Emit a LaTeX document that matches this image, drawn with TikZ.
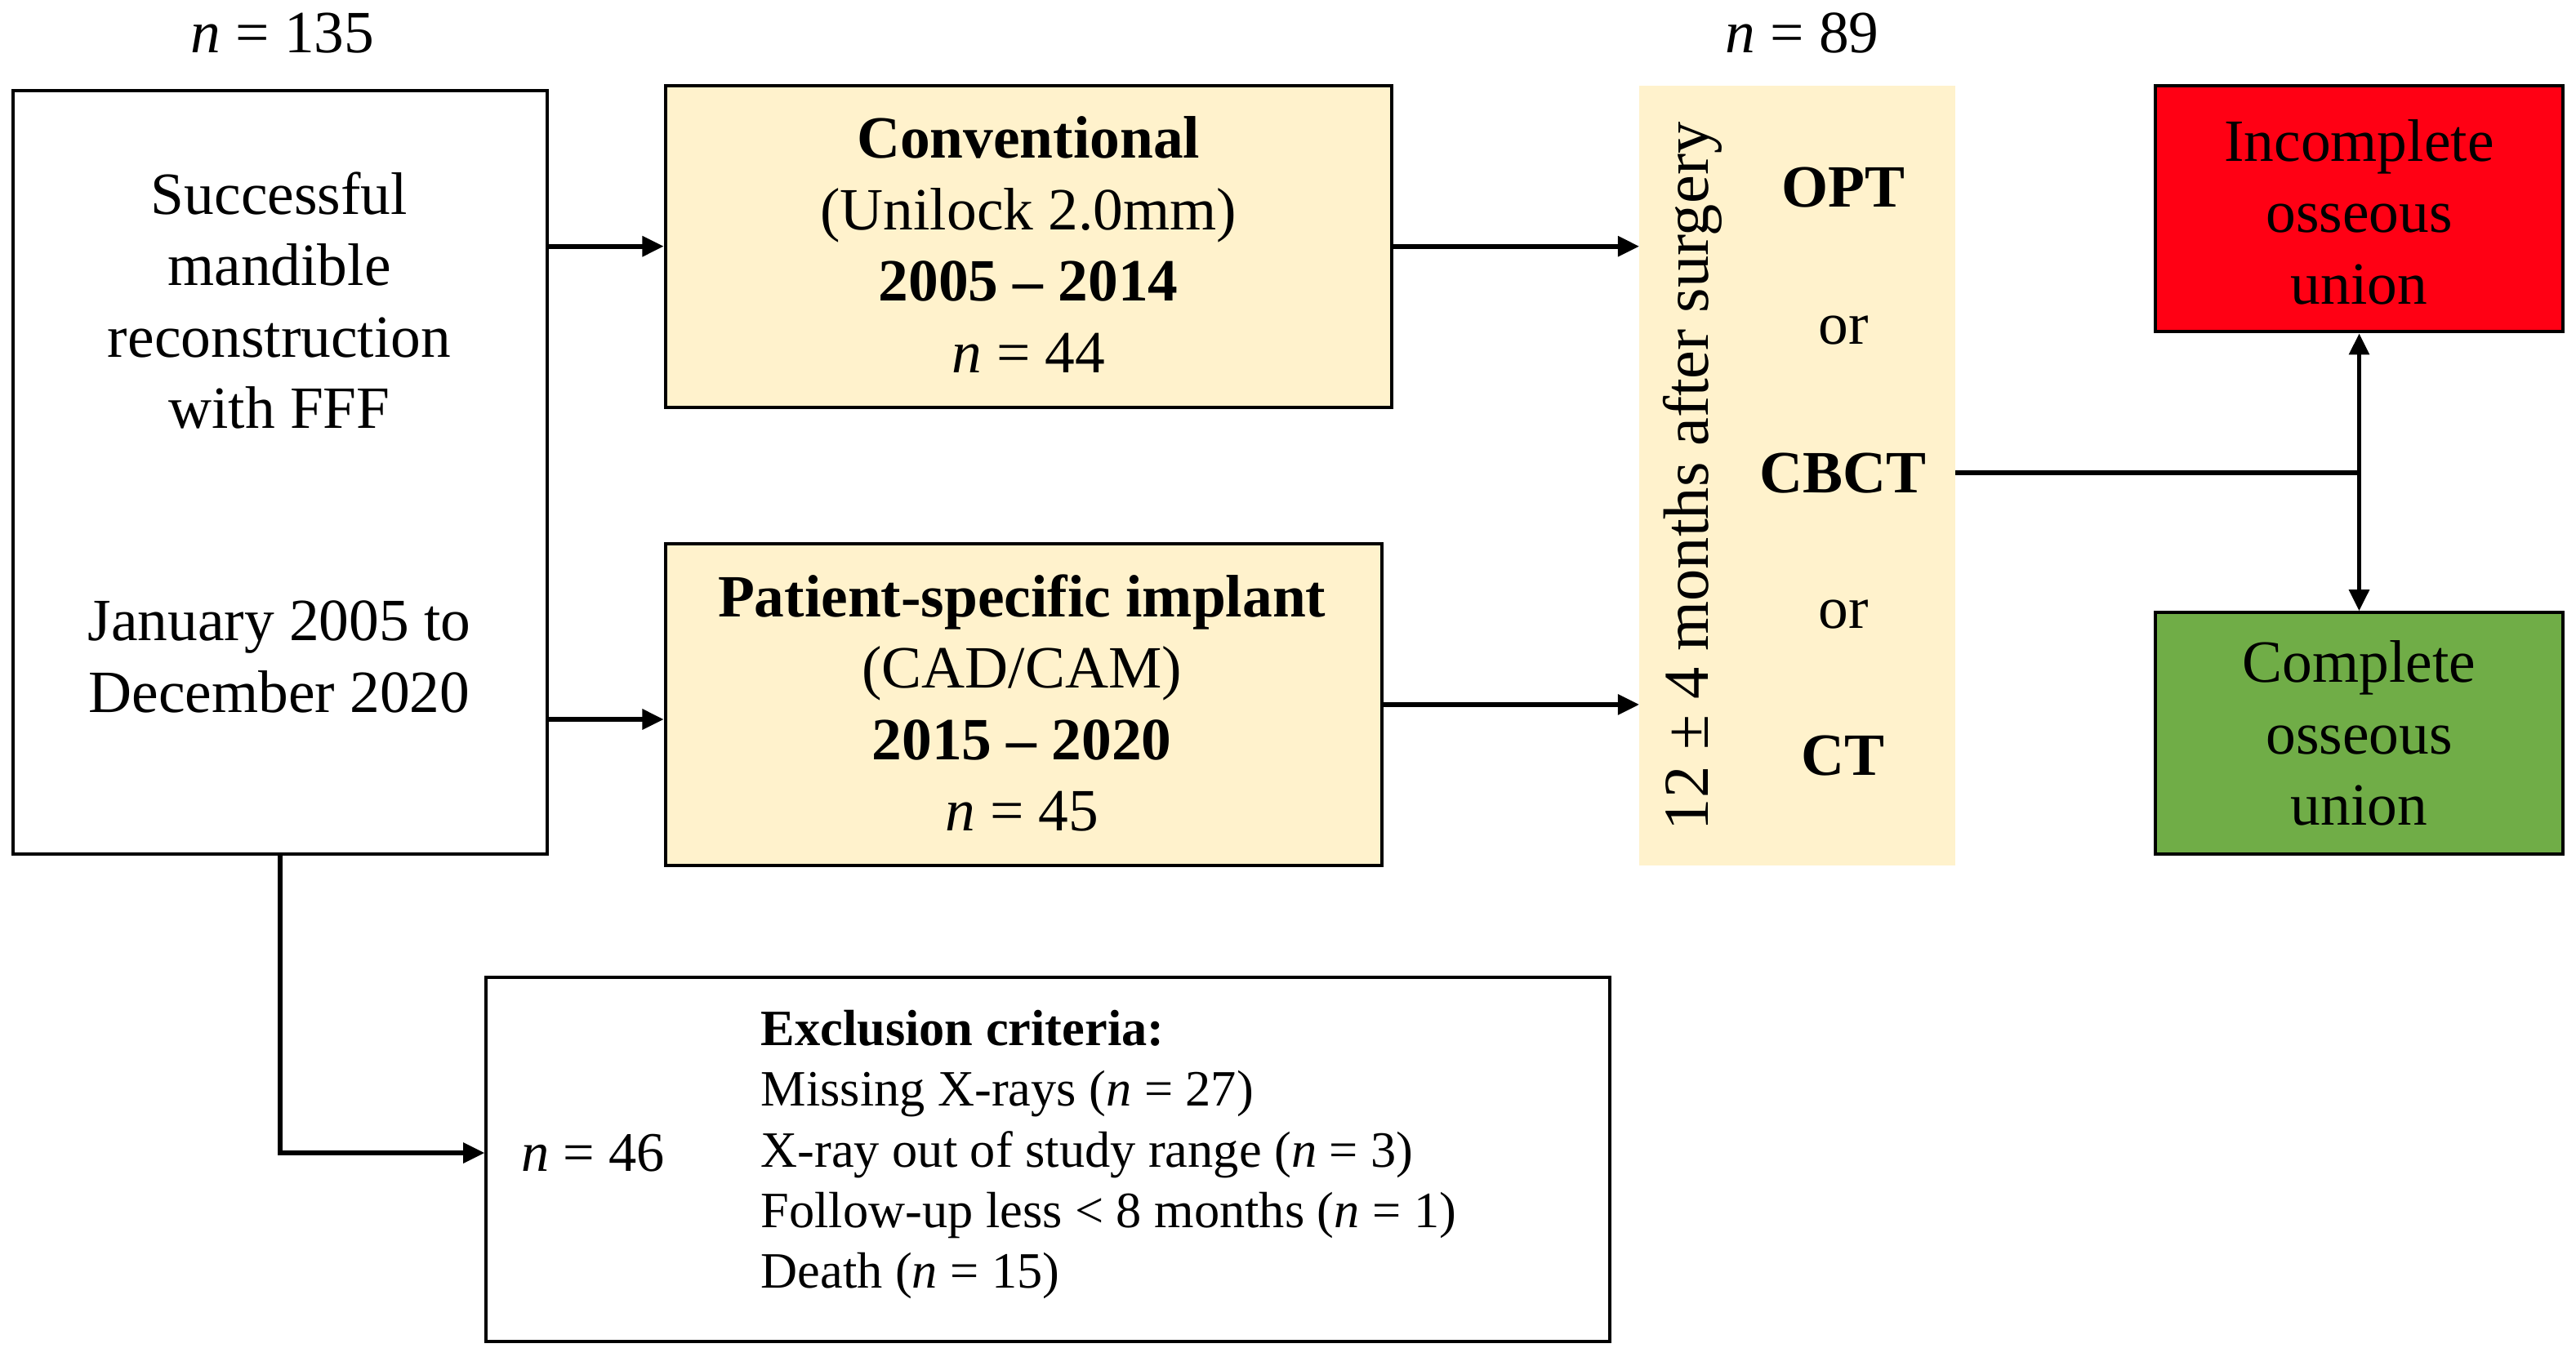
\documentclass[tikz,border=0pt]{standalone}
\usepackage{fontspec}
\setmainfont{Liberation Serif}
\usetikzlibrary{arrows.meta}
\definecolor{ylw}{RGB}{255,242,204}
\definecolor{redbox}{RGB}{255,0,20}
\definecolor{greenbox}{RGB}{112,173,71}
\tikzset{
  box/.style={draw=black, line width=2pt, inner sep=0pt},
  txt/.style={font=\fontsize{36.5}{43.5}\selectfont, align=center, inner sep=0pt},
  small/.style={font=\fontsize{31}{37}\selectfont, align=left, inner sep=0pt},
  arr/.style={line width=2.8pt, -{Triangle[length=13pt,width=12pt]}},
  ln/.style={line width=2.8pt},
}
\begin{document}
\begin{tikzpicture}[x=1pt,y=-1pt]
\useasboundingbox (0,0) rectangle (1568,826);
% boxes
\node[box, fill=white, minimum width=325pt, minimum height=465pt] (L) at (170.5,287.5) {};
\node[box, fill=ylw, minimum width=442pt, minimum height=196pt] (conv) at (626,150) {};
\node[box, fill=ylw, minimum width=436pt, minimum height=196pt] (psi) at (623,429) {};
\node[fill=ylw, inner sep=0pt, minimum width=192pt, minimum height=475pt] (col) at (1094,289.5) {};
\node[box, fill=redbox, minimum width=248pt, minimum height=150pt] (inc) at (1436,127) {};
\node[box, fill=greenbox, minimum width=248pt, minimum height=147pt] (comp) at (1436,446.5) {};
\node[box, fill=white, minimum width=684pt, minimum height=222pt] (excl) at (638,706) {};
% texts
\node[txt] (n135) at (172,20) {\textit{n} = 135};
\node[txt] (n89) at (1097,20) {\textit{n} = 89};
\node[txt] (Lt1) at (170,183) {Successful\\mandible\\reconstruction\\with FFF};
\node[txt] (Lt2) at (170,400) {January 2005 to\\December 2020};
\node[txt] (convt) at (626,149) {\textbf{Conventional}\\(Unilock 2.0mm)\\\textbf{2005 – 2014}\\\textit{n} = 44};
\node[txt] (psit) at (622,428) {\textbf{Patient-specific implant}\\(CAD/CAM)\\\textbf{2015 – 2020}\\\textit{n} = 45};
\node[txt, font=\fontsize{39}{43}\selectfont, rotate=90] (months) at (1030,290) {12 ± 4 months after surgery};
\node[txt] (opt) at (1122,114) {\textbf{OPT}};
\node[txt] (or1) at (1122,201) {or};
\node[txt] (cbct) at (1122,288) {\textbf{CBCT}};
\node[txt] (or2) at (1122,374) {or};
\node[txt] (ct) at (1122,460) {\textbf{CT}};
\node[txt] (inct) at (1436,129) {Incomplete\\osseous\\union};
\node[txt] (compt) at (1436,446.5) {Complete\\osseous\\union};
\node[small, font=\fontsize{34}{37}\selectfont] (n46) at (361,702) {\textit{n} = 46};
\node[small, anchor=west] (crit) at (463,703) {\textbf{Exclusion criteria:}\\Missing X-rays (\textit{n} = 27)\\X-ray out of study range (\textit{n} = 3)\\Follow-up less < 8 months (\textit{n} = 1)\\Death (\textit{n} = 15)};
% connectors
\coordinate (a1) at (L.east |- 0,150);
\coordinate (a2) at (L.east |- 0,438);
\coordinate (junc) at (inc.south |- cbct);
\draw[arr] (a1) -- (conv.west |- a1);
\draw[arr] (a2) -- (psi.west |- a2);
\draw[arr] (conv.east) -- (col.west |- conv.east);
\draw[arr] (psi.east) -- (col.west |- psi.east);
\draw[ln] (col.east |- cbct) -- (junc);
\draw[arr] (junc) -- (inc.south);
\draw[arr] (junc) -- (comp.north);
\draw[arr] (L.south) |- (excl.west |- n46);
\end{tikzpicture}
\end{document}
